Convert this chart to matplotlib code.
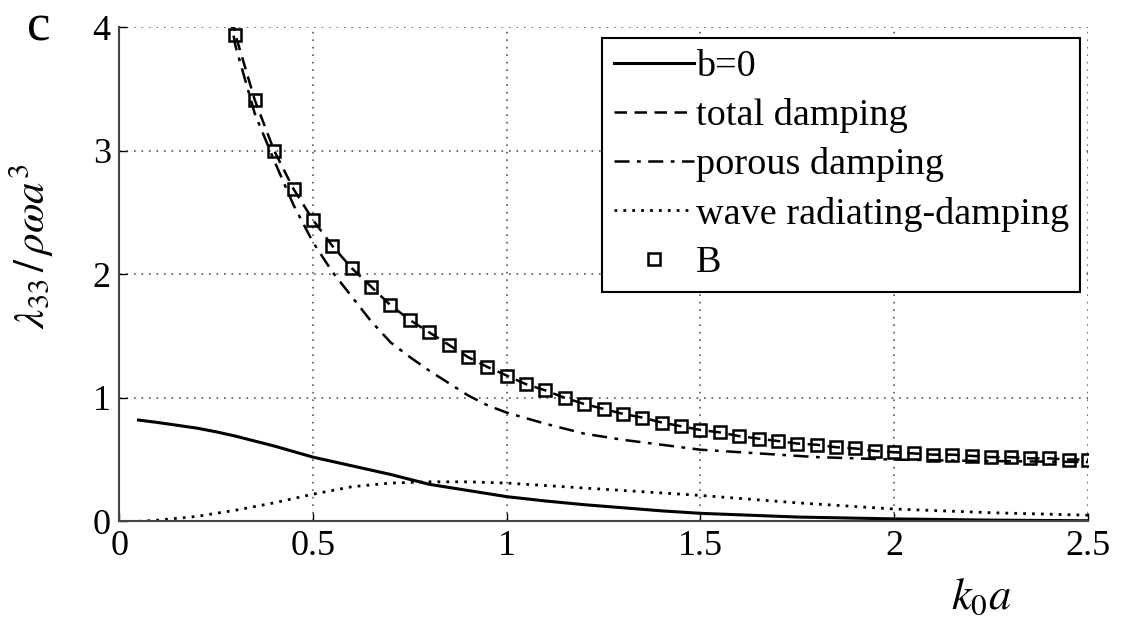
import matplotlib
matplotlib.use("Agg")
import matplotlib.pyplot as plt
import numpy as np

plt.rcParams["font.family"] = ["Liberation Serif", "DejaVu Serif"]
plt.rcParams["mathtext.fontset"] = "stix"

# b=0 (solid)
x_b0 = [0.05, 0.1, 0.2, 0.25, 0.3, 0.4, 0.5, 0.6, 0.7, 0.75, 0.8, 0.9, 1.0, 1.1, 1.2,
        1.3, 1.4, 1.5, 1.75, 2.0, 2.25, 2.5]
y_b0 = [0.82, 0.80, 0.755, 0.725, 0.69, 0.61, 0.52, 0.45, 0.38, 0.34, 0.30, 0.25, 0.20,
        0.165, 0.135, 0.11, 0.085, 0.065, 0.035, 0.02, 0.01, 0.005]

# total damping (dashed) and B (squares)
x_tot = [0.28, 0.3, 0.35, 0.4, 0.45, 0.5, 0.55, 0.6, 0.65, 0.7, 0.75, 0.8, 0.85, 0.9,
         0.95, 1.0, 1.05, 1.1, 1.15, 1.2, 1.25, 1.3, 1.35, 1.4, 1.45, 1.5, 1.55, 1.6,
         1.65, 1.7, 1.75, 1.8, 1.85, 1.9, 1.95, 2.0, 2.05, 2.1, 2.15, 2.2, 2.25, 2.3,
         2.35, 2.4, 2.45, 2.5]
y_tot = [4.25, 3.94, 3.41, 3.0, 2.69, 2.44, 2.23, 2.05, 1.90, 1.75, 1.63, 1.53, 1.43,
         1.33, 1.25, 1.18, 1.11, 1.06, 1.00, 0.95, 0.91, 0.87, 0.84, 0.80, 0.77, 0.74,
         0.72, 0.69, 0.67, 0.65, 0.63, 0.62, 0.60, 0.59, 0.57, 0.56, 0.55, 0.54, 0.54,
         0.53, 0.52, 0.52, 0.51, 0.51, 0.50, 0.50]
x_B = x_tot[1:]
y_B = y_tot[1:]

# porous damping (dash-dot)
x_por = [0.28, 0.3, 0.35, 0.4, 0.45, 0.5, 0.55, 0.6, 0.65, 0.7, 0.75, 0.8, 0.85, 0.9,
         0.95, 1.0, 1.1, 1.2, 1.3, 1.4, 1.5, 1.6, 1.7, 1.8, 1.9, 2.0, 2.2, 2.5]
y_por = [4.2, 3.85, 3.3, 2.92, 2.56, 2.26, 2.02, 1.82, 1.62, 1.45, 1.33, 1.22, 1.12,
         1.02, 0.94, 0.88, 0.79, 0.71, 0.66, 0.62, 0.58, 0.56, 0.54, 0.52, 0.51, 0.50,
         0.49, 0.48]

# wave radiating-damping (dotted)
x_wav = [0.05, 0.1, 0.2, 0.3, 0.4, 0.5, 0.6, 0.7, 0.8, 0.9, 1.0, 1.1, 1.25, 1.5, 1.75,
         2.0, 2.25, 2.5]
y_wav = [0.0, 0.01, 0.04, 0.09, 0.15, 0.22, 0.28, 0.31, 0.32, 0.32, 0.31, 0.29, 0.26,
         0.21, 0.15, 0.10, 0.07, 0.05]

xticks = [0, 0.5, 1, 1.5, 2, 2.5]
xticklabels = ["0", "0.5", "1", "1.5", "2", "2.5"]
yticks = [0, 1, 2, 3, 4]

fig = plt.figure(figsize=(11.24, 6.17), dpi=100, facecolor="white")
ax = fig.add_axes([0.106, 0.155, 0.862, 0.801])

ax.plot(x_b0, y_b0, "-", color="black", lw=2.2, label="b=0")
ax.plot(x_tot, y_tot, "--", color="black", lw=1.8, dashes=(5, 3), label="total damping")
ax.plot(x_por, y_por, "-.", color="black", lw=1.8, dashes=(6, 3, 1.5, 3), label="porous damping")
ax.plot(x_wav, y_wav, ":", color="black", lw=2.0, dashes=(1, 2.2), label="wave radiating-damping")
ax.plot(x_B, y_B, "s", mfc="none", mec="black", mew=1.8, ms=8, ls="none", label="B")

ax.set_xlim(0, 2.5)
ax.set_ylim(0, 4)
ax.set_xticks(xticks)
ax.set_xticklabels(xticklabels)
ax.set_yticks(yticks)
ax.tick_params(direction="in", length=6, width=1, labelsize=26, pad=6, colors="black")
ax.grid(True, color="#555555", lw=1.2, ls=(0, (1, 3.5)))
ax.set_axisbelow(True)
for s in ["top", "right"]:
    ax.spines[s].set_visible(False)
for s in ["left", "bottom"]:
    ax.spines[s].set_color("#444444")
    ax.spines[s].set_linewidth(1.5)

leg = ax.legend(loc="upper right", bbox_to_anchor=(0.992, 0.978), fontsize=27.5,
                handlelength=2.1, handletextpad=0.05, labelspacing=0.37,
                borderpad=0.3, borderaxespad=0, fancybox=False, framealpha=1)
leg.get_frame().set_edgecolor("black")
leg.get_frame().set_linewidth(1.5)

ax.text(0.89, -0.155, r"$k_0a$", transform=ax.transAxes, fontsize=32,
        ha="center", va="center")
fig.text(0.028, 0.6, r"$\lambda_{33}\,/\,\rho\omega a^3$", rotation=90, fontsize=31,
         ha="center", va="center")
fig.text(0.034, 0.955, "c", fontsize=38, ha="center", va="center")

fig.savefig("out.png", dpi=100, facecolor="white")
